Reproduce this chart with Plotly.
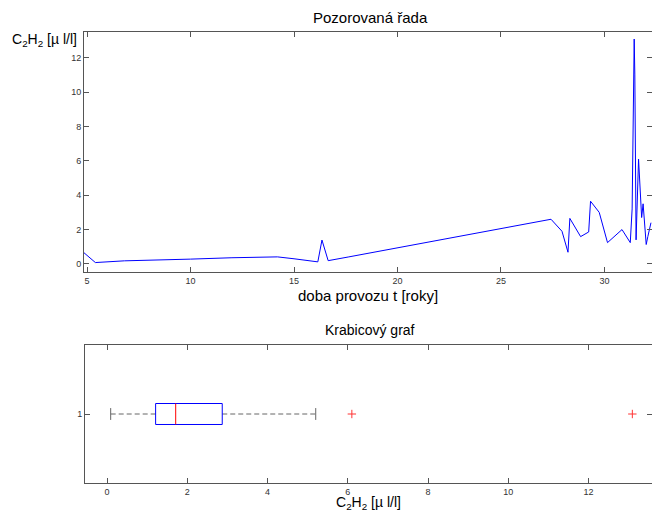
import plotly.graph_objects as go

# ---- observed series (years of operation vs C2H2 concentration) ----
t_years = [4.85, 5.4, 6.8, 8.8, 10.0, 12.0, 14.2, 15.0, 16.15, 16.35, 16.65, 17.65,
           19.8, 22.0, 24.5, 26.0, 27.42, 27.95, 28.24, 28.33, 28.85, 29.24, 29.33,
           29.75, 30.15, 30.85, 31.25, 31.34, 31.40, 31.44, 31.47, 31.53, 31.65,
           31.73, 31.80, 31.87, 31.95, 32.02, 32.10, 32.25]
c2h2 = [0.65, 0.08, 0.18, 0.22, 0.28, 0.36, 0.41, 0.30, 0.12, 1.39, 0.19, 0.41,
        0.90, 1.40, 1.95, 2.30, 2.60, 1.90, 0.68, 2.65, 1.59, 1.86, 3.65,
        3.00, 1.24, 2.00, 1.24, 3.20, 8.70, 13.09, 11.00, 1.40, 6.10,
        4.30, 2.70, 3.50, 2.00, 1.13, 1.60, 2.40]

# ---- box plot statistics ----
box_q1 = [1.21]
box_median = [1.71]
box_q3 = [2.87]
whisker_low = [0.09]
whisker_high = [5.2]
outliers = [6.1, 13.09]
box_pos = 1

x_ticks_top = [5, 10, 15, 20, 25, 30]
y_ticks_top = [0, 2, 4, 6, 8, 10, 12]
x_ticks_box = [0, 2, 4, 6, 8, 10, 12]

W, H = 652, 513
AXC = "#555555"
TICKFONT = dict(family="Liberation Sans, Arial, sans-serif", size=9, color="#333333")
LBLFONT = dict(family="Liberation Sans, Arial, sans-serif", size=14, color="#000000")
TTLFONT = dict(family="Liberation Sans, Arial, sans-serif", size=15, color="#000000")

fig = go.Figure()
fig.add_trace(go.Scatter(x=t_years, y=c2h2, mode="lines",
                         line=dict(color="#0000ff", width=1),
                         xaxis="x", yaxis="y", showlegend=False, hoverinfo="x+y"))

bh = 0.076   # box half height (style)
ch = 0.043   # cap half height (style)
q1, md, q3 = box_q1[0], box_median[0], box_q3[0]
wl, wh = whisker_low[0], whisker_high[0]
p = box_pos

# whiskers (dashed)
for xa, xb in [(wl, q1), (q3, wh)]:
    fig.add_trace(go.Scatter(x=[xa, xb], y=[p, p], mode="lines",
                             line=dict(color="#666666", width=1, dash="5px,3px"),
                             xaxis="x2", yaxis="y2", showlegend=False, hoverinfo="skip"))
# caps
for xv in [wl, wh]:
    fig.add_trace(go.Scatter(x=[xv, xv], y=[p - ch, p + ch], mode="lines",
                             line=dict(color="#666666", width=1),
                             xaxis="x2", yaxis="y2", showlegend=False, hoverinfo="skip"))
# box
fig.add_trace(go.Scatter(x=[q1, q3, q3, q1, q1], y=[p - bh, p - bh, p + bh, p + bh, p - bh],
                         mode="lines", line=dict(color="#0000ff", width=1),
                         xaxis="x2", yaxis="y2", showlegend=False, hoverinfo="skip"))
# median
fig.add_trace(go.Scatter(x=[md, md], y=[p - bh, p + bh], mode="lines",
                         line=dict(color="#ff0000", width=1),
                         xaxis="x2", yaxis="y2", showlegend=False, hoverinfo="skip"))
# outliers
fig.add_trace(go.Scatter(x=outliers, y=[p] * len(outliers), mode="markers",
                         marker=dict(symbol="cross-thin", size=6,
                                     line=dict(color="#ff3333", width=1)),
                         xaxis="x2", yaxis="y2", showlegend=False))

common = dict(showline=True, linecolor=AXC, linewidth=1, mirror="ticks",
              ticks="inside", ticklen=5, tickcolor=AXC, tickfont=TICKFONT,
              showgrid=False, zeroline=False)

fig.update_layout(
    width=W, height=H,
    margin=dict(l=0, r=0, t=0, b=0),
    paper_bgcolor="white", plot_bgcolor="white",
    xaxis=dict(domain=[84 / W, 1], range=[4.85, 32.3], tickvals=x_ticks_top,
               anchor="y", **common),
    yaxis=dict(domain=[1 - 272 / H, 1 - 32 / H], range=[-0.47, 13.5],
               tickvals=y_ticks_top, anchor="x", **common),
    xaxis2=dict(domain=[85 / W, 1], range=[-0.55, 13.58], tickvals=x_ticks_box,
                anchor="y2", **common),
    yaxis2=dict(domain=[1 - 483 / H, 1 - 345 / H], range=[0.5, 1.5],
                tickvals=[1], ticktext=["1"], anchor="x2", **common),
    annotations=[
        dict(text="Pozorovaná řada", x=370 / W, y=1 - 17 / H, xref="paper", yref="paper",
             xanchor="center", yanchor="middle", showarrow=False, font=TTLFONT),
        dict(text="doba provozu t [roky]", x=368 / W, y=1 - 295 / H, xref="paper", yref="paper",
             xanchor="center", yanchor="middle", showarrow=False, font=TTLFONT),
        dict(text="C<sub>2</sub>H<sub>2</sub> [µ l/l]", x=10 / W, y=1 - 40 / H,
             xref="paper", yref="paper", xanchor="left", yanchor="middle",
             showarrow=False, font=LBLFONT),
        dict(text="Krabicový graf", x=370 / W, y=1 - 330 / H, xref="paper", yref="paper",
             xanchor="center", yanchor="middle", showarrow=False, font=LBLFONT),
        dict(text="C<sub>2</sub>H<sub>2</sub> [µ l/l]", x=368 / W, y=1 - 503 / H,
             xref="paper", yref="paper", xanchor="center", yanchor="middle",
             showarrow=False, font=LBLFONT),
    ],
)

fig.write_html("out.html",
               config={"displayModeBar": False},
               post_script="document.body.style.margin='0';"
                           "document.body.style.overflow='hidden';"
                           "document.documentElement.style.overflow='hidden';")
